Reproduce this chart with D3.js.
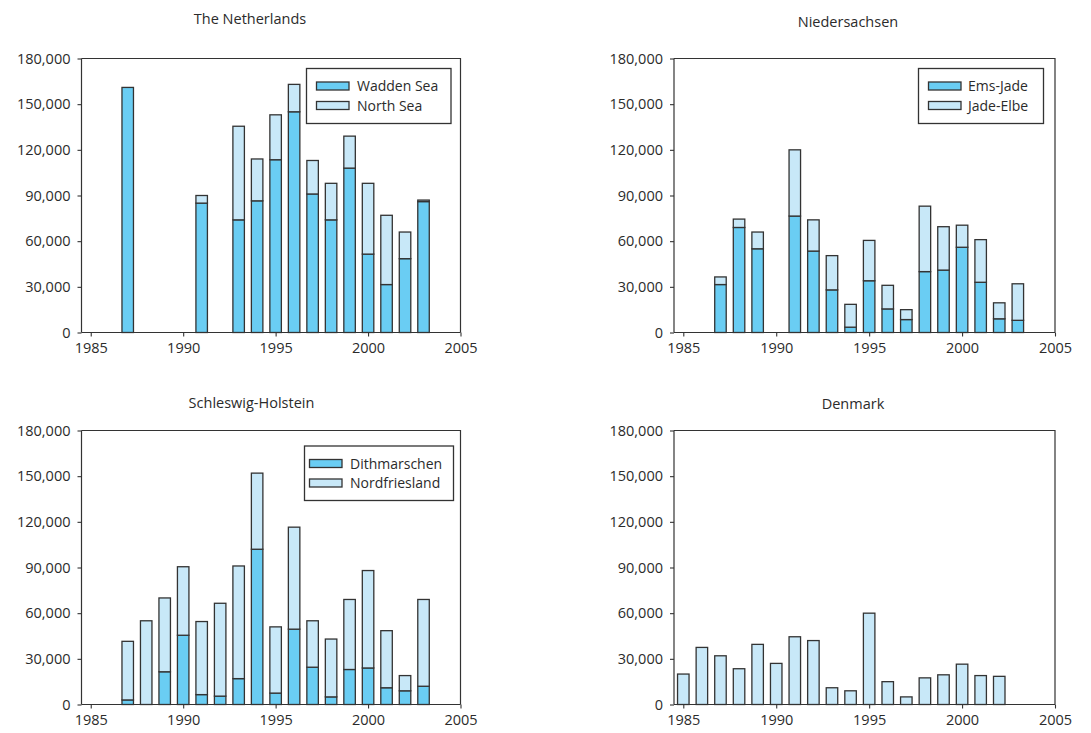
<!DOCTYPE html>
<html>
<head>
<meta charset="utf-8">
<script src="https://cdn.jsdelivr.net/npm/d3@7/dist/d3.min.js"></script>
<style>
  html, body { margin: 0; padding: 0; background: #fff; }
  svg { display: block; }
  text { font-family: "Open Sans", "Noto Sans", sans-serif; fill: #2b2b2b; }
</style>
</head>
<body>
<svg id="chart" width="1091" height="733"></svg>
<script>
// ---- Data: counts per year and region ----
const yTicks = [0, 30000, 60000, 90000, 120000, 150000, 180000];
const xTicks = [1985, 1990, 1995, 2000, 2005];

// The Netherlands
const nlYears     = [1987, 1991, 1993, 1994, 1995, 1996, 1997, 1998, 1999, 2000, 2001, 2002, 2003];
const nlWaddenSea = [161000, 85000, 74000, 86500, 113500, 145000, 91000, 74000, 108000, 51500, 31500, 48500, 86000];
const nlNorthSea  = [0, 5000, 61500, 27500, 29500, 18000, 22000, 24000, 21000, 46500, 45500, 17500, 1000];

// Niedersachsen
const niYears    = [1987, 1988, 1989, 1991, 1992, 1993, 1994, 1995, 1996, 1997, 1998, 1999, 2000, 2001, 2002, 2003];
const niEmsJade  = [31500, 69000, 55000, 76500, 53500, 28000, 3500, 34000, 15500, 8500, 40000, 41000, 56000, 33000, 9000, 8000];
const niJadeElbe = [5000, 5500, 11000, 43500, 20500, 22500, 15000, 26500, 15500, 6500, 43000, 28500, 14500, 28000, 10500, 24000];

// Schleswig-Holstein
const shYears         = [1987, 1988, 1989, 1990, 1991, 1992, 1993, 1994, 1995, 1996, 1997, 1998, 1999, 2000, 2001, 2002, 2003];
const shDithmarschen  = [3000, 0, 21500, 45500, 6500, 5500, 17000, 102000, 7500, 49500, 24500, 5000, 23000, 24000, 11000, 9000, 12000];
const shNordfriesland = [38500, 55000, 48500, 45000, 48000, 61000, 74000, 50000, 43500, 67000, 30500, 38000, 46000, 64000, 37500, 10000, 57000];

// Denmark
const dkYears  = [1985, 1986, 1987, 1988, 1989, 1990, 1991, 1992, 1993, 1994, 1995, 1996, 1997, 1998, 1999, 2000, 2001, 2002];
const dkCounts = [20000, 37500, 32000, 23500, 39500, 27000, 44500, 42000, 11000, 9000, 60000, 15000, 5000, 17500, 19500, 26500, 19000, 18500];

// ---- Styling ----
const DARK = "#6acdf3";
const LIGHT = "#c8e8f8";
const STROKE = "#333333";

// ---- Panel layout ----
const panels = [
  { title: "The Netherlands", titleX: 250, titleY: 20,
    left: 81.5, top: 58.5, width: 379, height: 274,
    years: nlYears, series: [nlWaddenSea, nlNorthSea], names: ["Wadden Sea", "North Sea"],
    fills: [DARK, LIGHT], legend: { x: 306.5, y: 68.5, w: 144.5, h: 55, sx: 10, tx: 50.5 } },
  { title: "Niedersachsen", titleX: 848, titleY: 23,
    left: 674, top: 58.5, width: 381, height: 274,
    years: niYears, series: [niEmsJade, niJadeElbe], names: ["Ems-Jade", "Jade-Elbe"],
    fills: [DARK, LIGHT], legend: { x: 918.5, y: 68.5, w: 125, h: 55, sx: 10, tx: 49.5 } },
  { title: "Schleswig-Holstein", titleX: 251.5, titleY: 404,
    left: 81.5, top: 430.5, width: 379, height: 274,
    years: shYears, series: [shDithmarschen, shNordfriesland], names: ["Dithmarschen", "Nordfriesland"],
    fills: [DARK, LIGHT], legend: { x: 304.5, y: 446, w: 149, h: 54.5, sx: 5, tx: 45.5 } },
  { title: "Denmark", titleX: 853, titleY: 405,
    left: 674, top: 430.5, width: 381, height: 274,
    years: dkYears, series: [dkCounts], names: null,
    fills: [LIGHT], legend: null }
];

const svg = d3.select("#chart");

panels.forEach(p => {
  const g = svg.append("g").attr("transform", `translate(${p.left},${p.top})`);

  const x = d3.scaleLinear().domain([1984.5, 2005]).range([0, p.width]);
  const y = d3.scaleLinear().domain([0, 180000]).range([p.height, 0]);
  const barW = 11.5;

  // Title
  svg.append("text")
    .attr("x", p.titleX).attr("y", p.titleY)
    .attr("text-anchor", "middle").attr("dominant-baseline", "middle")
    .style("font-size", "14.5px")
    .text(p.title);

  // Stacked bars, built with d3.stack from the series arrays
  const keys = p.series.map((_, i) => "s" + i);
  const table = p.years.map((yr, i) => {
    const row = { year: yr };
    p.series.forEach((s, k) => { row["s" + k] = s[i]; });
    return row;
  });
  const stacked = d3.stack().keys(keys)(table);

  stacked.forEach((layer, k) => {
    g.append("g").selectAll("rect")
      .data(layer.filter(d => d[1] - d[0] > 0))
      .join("rect")
      .attr("x", d => x(d.data.year) - barW / 2)
      .attr("y", d => y(d[1]))
      .attr("width", barW)
      .attr("height", d => y(d[0]) - y(d[1]))
      .attr("fill", p.fills[k])
      .attr("stroke", STROKE)
      .attr("stroke-width", 1.3);
  });

  // Frame (top and right edges)
  g.append("path")
    .attr("d", `M0,0H${p.width}V${p.height}`)
    .attr("fill", "none").attr("stroke", STROKE).attr("stroke-width", 1.2);

  // Y axis
  const yAxis = g.append("g")
    .call(d3.axisLeft(y).tickValues(yTicks).tickFormat(d3.format(",")).tickSize(4).tickPadding(7));
  // X axis
  const xAxis = g.append("g").attr("transform", `translate(0,${p.height})`)
    .call(d3.axisBottom(x).tickValues(xTicks).tickFormat(d3.format("d")).tickSize(4).tickPadding(6));

  [yAxis, xAxis].forEach(a => {
    a.select(".domain").attr("stroke", STROKE).attr("stroke-width", 1.2);
    a.selectAll(".tick line").attr("stroke", STROKE).attr("stroke-width", 1.1);
    a.selectAll(".tick text").style("font-size", "14.5px").attr("fill", "#2b2b2b")
      .style("font-family", "'Open Sans', 'Noto Sans', sans-serif");
  });
  yAxis.select(".domain").attr("d", `M0,0V${p.height}`);
  xAxis.select(".domain").attr("d", `M0,0H${p.width}`);

  // Legend
  if (p.legend) {
    const L = p.legend;
    const rowGap = 19.5;
    const firstRow = 17.5;
    const lg = svg.append("g").attr("transform", `translate(${L.x},${L.y})`);
    lg.append("rect").attr("width", L.w).attr("height", L.h)
      .attr("fill", "#fff").attr("stroke", STROKE).attr("stroke-width", 1.3);
    p.names.forEach((name, k) => {
      const cy = firstRow + k * rowGap;
      lg.append("rect")
        .attr("x", L.sx).attr("y", cy - 4)
        .attr("width", 32.5).attr("height", 8)
        .attr("fill", p.fills[k]).attr("stroke", STROKE).attr("stroke-width", 1.3);
      lg.append("text")
        .attr("x", L.tx).attr("y", cy + 5)
        .style("font-size", "14px")
        .text(name);
    });
  }
});
</script>
</body>
</html>
